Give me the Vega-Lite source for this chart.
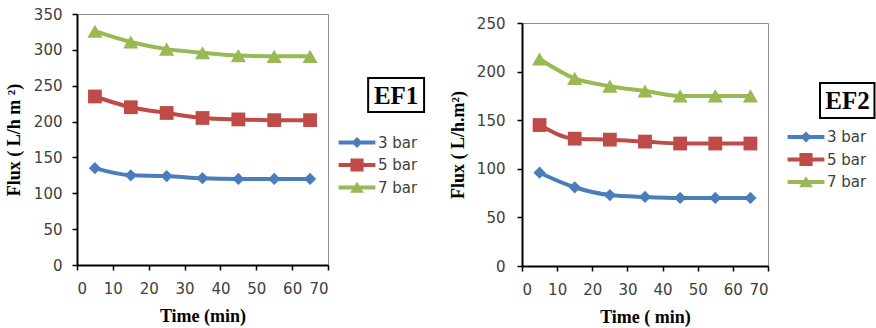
{
  "$schema": "https://vega.github.io/schema/vega-lite/v6.json",
  "background": "white",
  "padding": {"left": 4, "top": 6, "right": 0, "bottom": 0},
  "datasets": {
    "ef1": [
      {"pressure": "3 bar", "time": 5, "flux": 135},
      {"pressure": "3 bar", "time": 15, "flux": 125},
      {"pressure": "3 bar", "time": 25, "flux": 124},
      {"pressure": "3 bar", "time": 35, "flux": 121},
      {"pressure": "3 bar", "time": 45, "flux": 120},
      {"pressure": "3 bar", "time": 55, "flux": 120},
      {"pressure": "3 bar", "time": 65, "flux": 120},
      {"pressure": "5 bar", "time": 5, "flux": 235},
      {"pressure": "5 bar", "time": 15, "flux": 220},
      {"pressure": "5 bar", "time": 25, "flux": 212},
      {"pressure": "5 bar", "time": 35, "flux": 205},
      {"pressure": "5 bar", "time": 45, "flux": 203},
      {"pressure": "5 bar", "time": 55, "flux": 202},
      {"pressure": "5 bar", "time": 65, "flux": 202},
      {"pressure": "7 bar", "time": 5, "flux": 326},
      {"pressure": "7 bar", "time": 15, "flux": 311},
      {"pressure": "7 bar", "time": 25, "flux": 301},
      {"pressure": "7 bar", "time": 35, "flux": 296},
      {"pressure": "7 bar", "time": 45, "flux": 292},
      {"pressure": "7 bar", "time": 55, "flux": 291},
      {"pressure": "7 bar", "time": 65, "flux": 291}
    ],
    "ef2": [
      {"pressure": "3 bar", "time": 5, "flux": 96},
      {"pressure": "3 bar", "time": 15, "flux": 81},
      {"pressure": "3 bar", "time": 25, "flux": 73},
      {"pressure": "3 bar", "time": 35, "flux": 71},
      {"pressure": "3 bar", "time": 45, "flux": 70},
      {"pressure": "3 bar", "time": 55, "flux": 70},
      {"pressure": "3 bar", "time": 65, "flux": 70},
      {"pressure": "5 bar", "time": 5, "flux": 145},
      {"pressure": "5 bar", "time": 15, "flux": 131},
      {"pressure": "5 bar", "time": 25, "flux": 130},
      {"pressure": "5 bar", "time": 35, "flux": 128},
      {"pressure": "5 bar", "time": 45, "flux": 126},
      {"pressure": "5 bar", "time": 55, "flux": 126},
      {"pressure": "5 bar", "time": 65, "flux": 126},
      {"pressure": "7 bar", "time": 5, "flux": 213},
      {"pressure": "7 bar", "time": 15, "flux": 193},
      {"pressure": "7 bar", "time": 25, "flux": 185},
      {"pressure": "7 bar", "time": 35, "flux": 180},
      {"pressure": "7 bar", "time": 45, "flux": 175},
      {"pressure": "7 bar", "time": 55, "flux": 175},
      {"pressure": "7 bar", "time": 65, "flux": 175}
    ],
    "lab1": [{"label": "EF1"}],
    "lab2": [{"label": "EF2"}]
  },
  "resolve": {"scale": {"color": "independent"}, "legend": {"color": "independent"}},
  "hconcat": [
    {
      "width": 251,
      "height": 251,
      "view": {"stroke": "#8c8c8c", "strokeWidth": 1},
      "layer": [
        {
          "data": {"name": "ef1"},
          "mark": {"type": "line", "strokeWidth": 4, "interpolate": "monotone"},
          "encoding": {
            "x": {"field": "time", "type": "quantitative", "scale": {"domain": [0, 70], "nice": false},
                  "axis": {"title": "Time (min)", "values": [0, 10, 20, 30, 40, 50, 60, 70], "tickCount": 20, "labelOverlap": false}},
            "y": {"field": "flux", "type": "quantitative", "scale": {"domain": [0, 350], "nice": false},
                  "axis": {"title": "Flux ( L/h m ²)", "values": [0, 50, 100, 150, 200, 250, 300, 350], "tickCount": 20, "labelOverlap": false, "labelPadding": 10, "titlePadding": 10}},
            "color": {"field": "pressure", "type": "nominal",
                      "scale": {"domain": ["3 bar", "5 bar", "7 bar"], "range": ["#4a7ebb", "#be4b48", "#98b954"]},
                      "legend": {"title": null, "orient": "none", "legendX": 268.5, "legendY": 117,
                                 "symbolSize": 529, "labelOffset": 9.5, "padding": 0, "rowPadding": 2.5,
                                 "labelFont": "DejaVu Sans", "labelFontSize": 15, "labelColor": "#404040",
                                 "encode": {"symbols": {"update": {
                                   "shape": {"signal": "datum.value === '3 bar' ? 'M-1.6,-0.17H1.6V0.17H-1.6Z M0,-0.48L0.48,0L0,0.48L-0.48,0Z' : datum.value === '5 bar' ? 'M-1.6,-0.17H1.6V0.17H-1.6Z M-0.57,-0.57H0.57V0.57H-0.57Z' : 'M-1.6,-0.17H1.6V0.17H-1.6Z M0,-0.5L0.6,0.45H-0.6Z'"},
                                   "fill": {"signal": "datum.value === '3 bar' ? '#4a7ebb' : datum.value === '5 bar' ? '#be4b48' : '#98b954'"},
                                   "fillOpacity": {"value": 1},
                                   "strokeWidth": {"value": 0}
                                 }}}}}
          }
        },
        {
          "data": {"name": "ef1"},
          "transform": [{"filter": "datum.pressure === '3 bar'"}],
          "mark": {"type": "point", "shape": "diamond", "size": 150, "filled": true, "opacity": 1},
          "encoding": {"x": {"field": "time", "type": "quantitative"}, "y": {"field": "flux", "type": "quantitative"}, "color": {"field": "pressure", "type": "nominal"}}
        },
        {
          "data": {"name": "ef1"},
          "transform": [{"filter": "datum.pressure === '5 bar'"}],
          "mark": {"type": "point", "shape": "square", "size": 190, "filled": true, "opacity": 1},
          "encoding": {"x": {"field": "time", "type": "quantitative"}, "y": {"field": "flux", "type": "quantitative"}, "color": {"field": "pressure", "type": "nominal"}}
        },
        {
          "data": {"name": "ef1"},
          "transform": [{"filter": "datum.pressure === '7 bar'"}],
          "mark": {"type": "point", "shape": "triangle-up", "size": 230, "filled": true, "opacity": 1},
          "encoding": {"x": {"field": "time", "type": "quantitative"}, "y": {"field": "flux", "type": "quantitative"}, "color": {"field": "pressure", "type": "nominal"}}
        },
        {
          "data": {"name": "lab1"},
          "mark": {"type": "rect", "fill": null, "stroke": "black", "strokeWidth": 2, "clip": false},
          "encoding": {"x": {"datum": 81.2}, "x2": {"datum": 96.8}, "y": {"datum": 260.8}, "y2": {"datum": 213.4}}
        },
        {
          "data": {"name": "lab1"},
          "mark": {"type": "text", "font": "Liberation Serif", "fontWeight": "bold", "fontSize": 25, "color": "black", "baseline": "middle", "align": "center", "clip": false},
          "encoding": {"x": {"datum": 89}, "y": {"datum": 236}, "text": {"field": "label"}}
        }
      ]
    },
    {
      "spacing": 0,
      "vconcat": [
        {
          "width": 10,
          "height": 1,
          "view": {"stroke": null},
          "data": {"values": []},
          "mark": "point"
        },
        {
          "width": 246,
          "height": 243,
          "view": {"stroke": "#8c8c8c", "strokeWidth": 1},
          "layer": [
            {
              "data": {"name": "ef2"},
              "mark": {"type": "line", "strokeWidth": 4, "interpolate": "monotone"},
              "encoding": {
                "x": {"field": "time", "type": "quantitative", "scale": {"domain": [0, 70], "nice": false},
                      "axis": {"title": "Time ( min)", "values": [0, 10, 20, 30, 40, 50, 60, 70], "tickCount": 20, "labelOverlap": false}},
                "y": {"field": "flux", "type": "quantitative", "scale": {"domain": [0, 250], "nice": false},
                      "axis": {"title": "Flux ( L/h.m²)", "values": [0, 50, 100, 150, 200, 250], "tickCount": 20, "labelOverlap": false, "labelPadding": 12, "titlePadding": 9}},
                "color": {"field": "pressure", "type": "nominal",
                          "scale": {"domain": ["3 bar", "5 bar", "7 bar"], "range": ["#4a7ebb", "#be4b48", "#98b954"]},
                          "legend": {"title": null, "orient": "none", "legendX": 272.5, "legendY": 111.5,
                                     "symbolSize": 529, "labelOffset": 9.5, "padding": 0, "rowPadding": 2.5,
                                     "labelFont": "DejaVu Sans", "labelFontSize": 15, "labelColor": "#404040",
                                     "encode": {"symbols": {"update": {
                                       "shape": {"signal": "datum.value === '3 bar' ? 'M-1.6,-0.17H1.6V0.17H-1.6Z M0,-0.48L0.48,0L0,0.48L-0.48,0Z' : datum.value === '5 bar' ? 'M-1.6,-0.17H1.6V0.17H-1.6Z M-0.57,-0.57H0.57V0.57H-0.57Z' : 'M-1.6,-0.17H1.6V0.17H-1.6Z M0,-0.5L0.6,0.45H-0.6Z'"},
                                       "fill": {"signal": "datum.value === '3 bar' ? '#4a7ebb' : datum.value === '5 bar' ? '#be4b48' : '#98b954'"},
                                       "fillOpacity": {"value": 1},
                                       "strokeWidth": {"value": 0}
                                     }}}}}
              }
            },
            {
              "data": {"name": "ef2"},
              "transform": [{"filter": "datum.pressure === '3 bar'"}],
              "mark": {"type": "point", "shape": "diamond", "size": 150, "filled": true, "opacity": 1},
              "encoding": {"x": {"field": "time", "type": "quantitative"}, "y": {"field": "flux", "type": "quantitative"}, "color": {"field": "pressure", "type": "nominal"}}
            },
            {
              "data": {"name": "ef2"},
              "transform": [{"filter": "datum.pressure === '5 bar'"}],
              "mark": {"type": "point", "shape": "square", "size": 190, "filled": true, "opacity": 1},
              "encoding": {"x": {"field": "time", "type": "quantitative"}, "y": {"field": "flux", "type": "quantitative"}, "color": {"field": "pressure", "type": "nominal"}}
            },
            {
              "data": {"name": "ef2"},
              "transform": [{"filter": "datum.pressure === '7 bar'"}],
              "mark": {"type": "point", "shape": "triangle-up", "size": 230, "filled": true, "opacity": 1},
              "encoding": {"x": {"field": "time", "type": "quantitative"}, "y": {"field": "flux", "type": "quantitative"}, "color": {"field": "pressure", "type": "nominal"}}
            },
            {
              "data": {"name": "lab2"},
              "mark": {"type": "rect", "fill": null, "stroke": "black", "strokeWidth": 2, "clip": false},
              "encoding": {"x": {"datum": 84.8}, "x2": {"datum": 100.3}, "y": {"datum": 188.3}, "y2": {"datum": 152.3}}
            },
            {
              "data": {"name": "lab2"},
              "mark": {"type": "text", "font": "Liberation Serif", "fontWeight": "bold", "fontSize": 25, "color": "black", "baseline": "middle", "align": "center", "clip": false},
              "encoding": {"x": {"datum": 92.6}, "y": {"datum": 169.5}, "text": {"field": "label"}}
            }
          ]
        }
      ]
    }
  ],
  "spacing": 22,
  "config": {
    "axis": {
      "grid": false,
      "labelOverlap": false,
      "domainColor": "black",
      "domainWidth": 2,
      "tickColor": "black",
      "tickWidth": 1.5,
      "tickSize": 5,
      "labelFont": "DejaVu Sans",
      "labelFontSize": 15,
      "labelColor": "#404040",
      "titleFont": "Liberation Serif",
      "titleFontWeight": "bold",
      "titleFontSize": 18,
      "titleColor": "black"
    },
    "axisX": {"labelPadding": 11, "titlePadding": 11},
    "legend": {"padding": 0}
  }
}
